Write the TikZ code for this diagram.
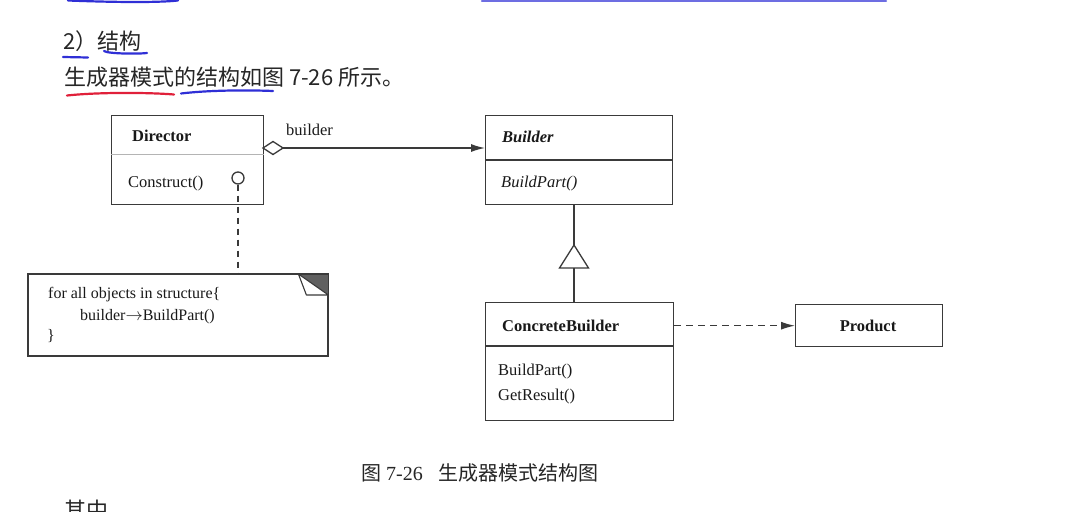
\documentclass[tikz,border=0pt]{standalone}
\usepackage{fontspec}
\setmainfont{Liberation Serif}
\newfontfamily\cjk{Noto Sans CJK SC}
\usetikzlibrary{arrows.meta,shapes.geometric,calc}
\definecolor{linec}{HTML}{3A3A3A}
\definecolor{sepc}{HTML}{B4B4B4}
\definecolor{penblue}{HTML}{2F2FD6}
\definecolor{penred}{HTML}{E0203A}
\definecolor{foldc}{HTML}{606060}
\newcommand\umlfont{\fontsize{16.5}{20}\selectfont}
\newcommand\notefont{\fontsize{16}{20}\selectfont}
\begin{document}
\begin{tikzpicture}[x=1pt,y=-1pt,
  umlbox/.style={draw=linec, line width=1.4pt, rectangle, inner sep=0pt, anchor=north west},
  lbl/.style={anchor=base west, inner sep=0pt, font=\umlfont, text=black!90},
  notelbl/.style={anchor=base west, inner sep=0pt, font=\notefont, text=black!90},
  sep/.style={line width=1.4pt, draw=linec},
  conn/.style={line width=1.3pt, draw=linec},
  pen/.style={line width=2.2pt, line cap=round},
  tip/.style={-{Latex[length=14pt,width=8pt]}},
  head/.style={anchor=base west, inner sep=0pt, font=\cjk\fontsize{22}{26}\selectfont, text=black!85}
]
\useasboundingbox (0,0) rectangle (1078,511);
\fill[white] (0,0) rectangle (1078,511);

% top cut-off pen strokes
\draw[pen, penblue] (68,0.5) .. controls (120,2.5) and (160,2.5) .. (178,0.5);
\draw[pen, penblue!70] (482,0.8) -- (886,0.8);

% heading
\node[head] (h1) at (63,50) {2）结构};
\node[head] (h2) at (64,85) {生成器模式的结构如图 7-26 所示。};
\draw[pen, penblue] (63,57) -- (88,57.5);
\draw[pen, penblue] (104,51) .. controls (108,54) and (140,54) .. (147,53);
\draw[pen, penred] (67,95.5) .. controls (100,92) and (150,92.5) .. (174,94.5);
\draw[pen, penblue] (181,93.5) .. controls (210,90) and (250,90) .. (273,91);

% Director
\node[umlbox, minimum width=152pt, minimum height=89pt] (dir) at (111,115) {};
\draw[sepc, line width=0.9pt] ($(dir.north west)+(0,39)$) -- ($(dir.north east)+(0,39)$);
\node[lbl, font=\umlfont\bfseries] (dirname) at (132,141) {Director};
\node[lbl] (construct) at (128,187) {Construct()};
\node[circle, draw=linec, line width=1.3pt, minimum size=12pt, inner sep=0pt] (port) at (238,178) {};

% Builder
\node[umlbox, minimum width=187pt, minimum height=89pt] (bld) at (485,115) {};
\draw[sep] ($(bld.north west)+(0,45)$) -- ($(bld.north east)+(0,45)$);
\node[lbl, font=\umlfont\bfseries\itshape] (bldname) at (502,142) {Builder};
\node[lbl, font=\umlfont\itshape] (bldop) at (501,187) {BuildPart()};

% aggregation
\coordinate (agg) at (263,148);
\coordinate (aggtip) at (283,148);
\draw[conn, fill=white, line join=miter] (agg) -- ++(10,-6.5) -- (aggtip) -- ++(-10,6.5) -- cycle;
\draw[conn, tip] (aggtip) -- (aggtip -| bld.west);
\node[lbl] (role) at (286,135) {builder};

% ConcreteBuilder
\node[umlbox, minimum width=188pt, minimum height=118pt] (cb) at (485,302) {};
\draw[sep] ($(cb.north west)+(0,44)$) -- ($(cb.north east)+(0,44)$);
\node[lbl, font=\umlfont\bfseries] (cbname) at (502,331) {ConcreteBuilder};
\node[lbl] (cbop1) at (498,375) {BuildPart()};
\node[lbl] (cbop2) at (498,400) {GetResult()};

% generalization
\coordinate (tri) at (574,245);
\draw[conn] (bld.south -| tri) -- (tri);
\draw[conn, fill=white] (tri) -- ++(14.5,23) -- ++(-29,0) -- cycle;
\draw[conn] ($(tri)+(0,23)$) -- (tri |- cb.north);

% Product
\node[umlbox, minimum width=147pt, minimum height=42pt] (prod) at (795,304) {};
\node[anchor=base, inner sep=0pt, font=\umlfont\bfseries, text=black!90] (prodname) at (868,331) {Product};
\draw[conn, dash pattern=on 7pt off 5pt, tip] (cb.east |- prod.west) -- (prod.west);

% note
\node[umlbox, minimum width=299pt, minimum height=81pt] (note) at (28,274) {};
\fill[foldc] ($(note.north east)+(-30,0)$) -- (note.north east) -- ($(note.north east)+(0,21)$) -- cycle;
\draw[line width=1.1pt, draw=linec, fill=white, line join=round] ($(note.north east)+(-30,0)$) -- ($(note.north east)+(-22,21)$) -- ($(note.north east)+(0,21)$) -- cycle;
\draw[umlbox] (note.north west) rectangle (note.south east);
\node[notelbl] (n1) at (48,298) {for all objects in structure\{};
\node[notelbl] (n2) at (80,320) {builder\(\rightarrow\)BuildPart()};
\node[notelbl] (n3) at (47,340) {\}};
\draw[conn, dash pattern=on 6pt off 5pt] (port.south) -- (port.south |- note.north);

% caption
\node[anchor=base west, inner sep=0pt, text=black!85] (cap) at (361,480)
  {{\cjk\fontsize{20}{24}\selectfont 图}\fontsize{20}{24}\selectfont\ 7-26\hspace{16pt}{\cjk\fontsize{20}{24}\selectfont 生成器模式结构图}};
\node[head] (tail) at (64,518) {其中};
\end{tikzpicture}
\end{document}
